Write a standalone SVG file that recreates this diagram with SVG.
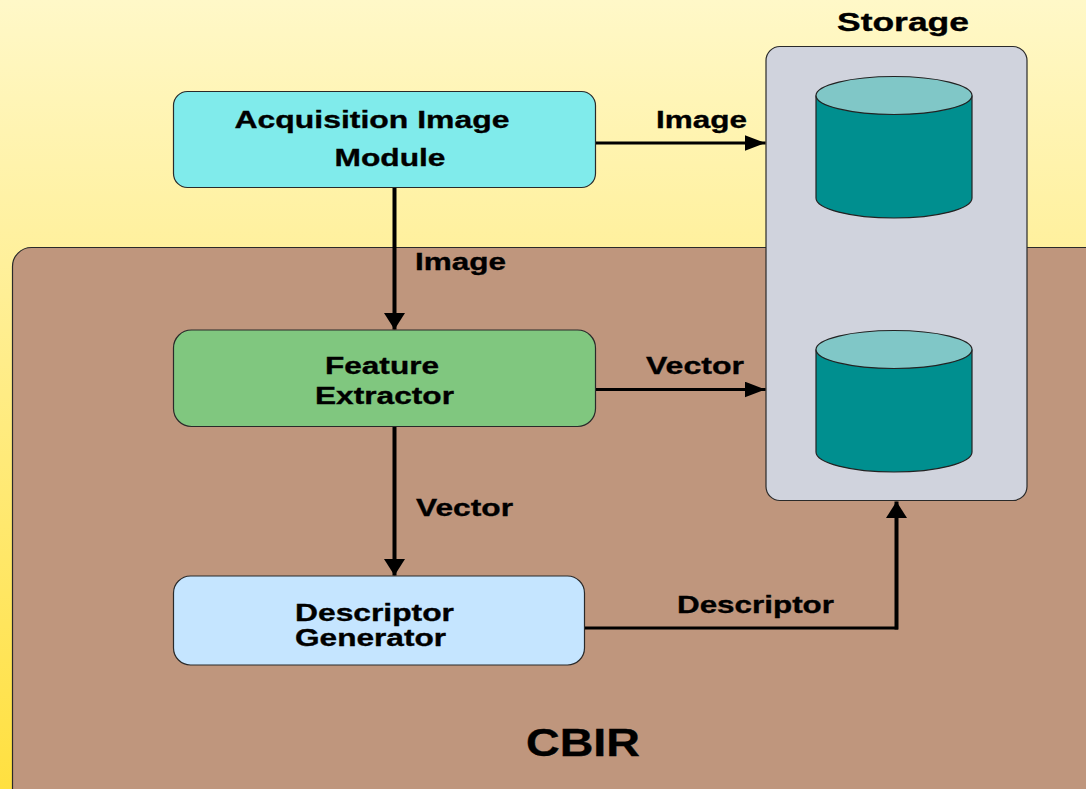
<svg xmlns="http://www.w3.org/2000/svg" width="1086" height="789" viewBox="0 0 1086 789">
<style>
.b{stroke:#2a2a2a;stroke-width:1.2}
.c{stroke:#222;stroke-width:1.2}
text{font-family:"Liberation Sans",Arial,sans-serif;font-weight:700;fill:#000;stroke:#000;stroke-width:.35;text-anchor:middle}
.t{font-size:24.5px}
.h{fill:none;stroke:#000;stroke-width:3}
.v{fill:none;stroke:#000;stroke-width:4}
</style>
<defs>
<linearGradient id="bg" x1="0" y1="0" x2="0" y2="1"><stop offset="0" stop-color="#fff8c8"/><stop offset="1" stop-color="#ffe040"/></linearGradient>
<marker id="ah" markerUnits="userSpaceOnUse" markerWidth="22" markerHeight="16" refX="21" refY="8" orient="auto"><path d="M0 0L21 8L0 16Z" fill="#000"/></marker>
<marker id="av" markerUnits="userSpaceOnUse" markerWidth="17" markerHeight="21" refX="16.500" refY="10.500" orient="auto"><path d="M0 0L16.500 10.500L0 21Z" fill="#000"/></marker>
<g id="cyl"><path class="c" fill="#008f8f" d="M816 96V198C816 209 851 218 894 218S972 209 972 198V96Z"/><ellipse class="c" fill="#80c7c7" cx="894" cy="95.500" rx="78" ry="19"/></g>
</defs>
<rect id="background" width="1086" height="789" fill="url(#bg)"/>
<g id="cbir"><rect class="b" x="12.500" y="247.500" width="1100" height="570" rx="19" fill="#bf967d"/><text x="583" y="756" font-size="39" textLength="114" lengthAdjust="spacingAndGlyphs">CBIR</text></g>
<g id="storage"><rect class="b" x="766" y="46.500" width="261" height="454" rx="14" fill="#d0d3dd"/><use href="#cyl"/><use href="#cyl" y="254"/><text x="903" y="31" font-size="26.500" textLength="132" lengthAdjust="spacingAndGlyphs">Storage</text></g>
<g id="acquisition"><rect class="b" x="173.500" y="91.500" width="422" height="96" rx="14" fill="#80ebeb"/><text class="t" x="372" y="128" textLength="275" lengthAdjust="spacingAndGlyphs">Acquisition Image</text><text class="t" x="390" y="166" textLength="111" lengthAdjust="spacingAndGlyphs">Module</text></g>
<g id="feature"><rect class="b" x="173.500" y="330" width="422" height="96.500" rx="18" fill="#80c77f"/><text class="t" x="382" y="374" textLength="114" lengthAdjust="spacingAndGlyphs">Feature</text><text class="t" x="384.500" y="404" textLength="139" lengthAdjust="spacingAndGlyphs">Extractor</text></g>
<g id="descriptor"><rect class="b" x="173.500" y="576" width="411" height="89" rx="17" fill="#c5e5ff"/><text class="t" x="374.500" y="621" textLength="159" lengthAdjust="spacingAndGlyphs">Descriptor</text><text class="t" x="370.500" y="646" textLength="151" lengthAdjust="spacingAndGlyphs">Generator</text></g>
<g id="connectors">
<path class="h" marker-end="url(#ah)" d="M596 143H765.500"/>
<path class="h" marker-end="url(#ah)" d="M596 389.500H765.500"/>
<path class="v" marker-end="url(#av)" d="M394.500 188V329.500"/>
<path class="v" marker-end="url(#av)" d="M394.500 427V575.500"/>
<path class="h" d="M585 628H898"/>
<path class="v" marker-end="url(#av)" d="M896.500 629.500V501.500"/>
<g font-size="24.500"><text x="701.500" y="128" textLength="91" lengthAdjust="spacingAndGlyphs">Image</text><text x="460.500" y="270" textLength="91" lengthAdjust="spacingAndGlyphs">Image</text><text x="695" y="374" textLength="98" lengthAdjust="spacingAndGlyphs">Vector</text><text x="464.500" y="516" textLength="97" lengthAdjust="spacingAndGlyphs">Vector</text><text x="755.500" y="613" textLength="157" lengthAdjust="spacingAndGlyphs">Descriptor</text></g>
</g>
</svg>
